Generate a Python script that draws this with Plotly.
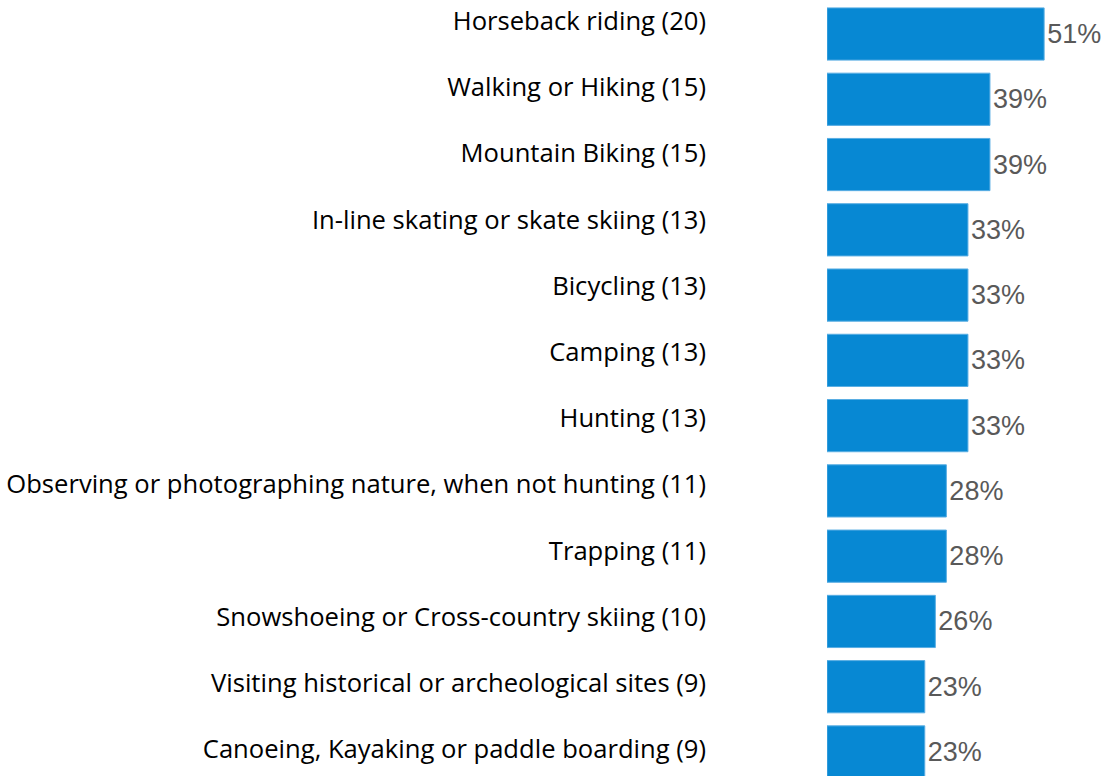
import plotly.graph_objects as go

categories = [
    "Horseback riding (20)",
    "Walking or Hiking (15)",
    "Mountain Biking (15)",
    "In-line skating or skate skiing (13)",
    "Bicycling (13)",
    "Camping (13)",
    "Hunting (13)",
    "Observing or photographing nature, when not hunting (11)",
    "Trapping (11)",
    "Snowshoeing or Cross-country skiing (10)",
    "Visiting historical or archeological sites (9)",
    "Canoeing, Kayaking or paddle boarding (9)",
]
values = [51.3, 38.5, 38.5, 33.3, 33.3, 33.3, 33.3, 28.2, 28.2, 25.6, 23.1, 23.1]
value_labels = ["51%", "39%", "39%", "33%", "33%", "33%", "33%", "28%", "28%", "26%", "23%", "23%"]

idx = list(range(len(categories)))

fig = go.Figure()
fig.add_trace(
    go.Bar(
        x=values,
        y=idx,
        orientation="h",
        marker=dict(color="#0788d3", line=dict(color="#5aaee3", width=1)),
        width=0.8,
        text=value_labels,
        textposition="outside",
        textfont=dict(family="Liberation Sans, Arial, sans-serif", size=27, color="#595959"),
        cliponaxis=False,
        hoverinfo="skip",
    )
)
# invisible carrier trace for the category label axis
fig.add_trace(
    go.Scatter(
        x=[0] * len(idx),
        y=idx,
        yaxis="y2",
        mode="markers",
        marker=dict(opacity=0),
        hoverinfo="skip",
        showlegend=False,
    )
)

fig.update_layout(
    width=1111,
    height=776,
    margin=dict(l=827, r=0, t=0, b=0),
    paper_bgcolor="white",
    plot_bgcolor="white",
    showlegend=False,
    xaxis=dict(range=[0, 67.1], visible=False, showgrid=False, zeroline=False),
    yaxis=dict(
        range=[11.368, -0.521],
        showticklabels=False,
        showgrid=False,
        zeroline=False,
        showline=False,
        ticks="",
    ),
    yaxis2=dict(
        overlaying="y",
        side="left",
        anchor="x",
        range=[11.405, -0.317],
        tickmode="array",
        tickvals=idx,
        ticktext=categories,
        showgrid=False,
        zeroline=False,
        showline=False,
        ticks="",
        ticklabelstandoff=120,
        tickfont=dict(family="Open Sans, sans-serif", size=25.6, color="#000000"),
    ),
)

fig.write_html("out.html", post_script="document.body.style.margin='0';",
               config={"displayModeBar": False})
